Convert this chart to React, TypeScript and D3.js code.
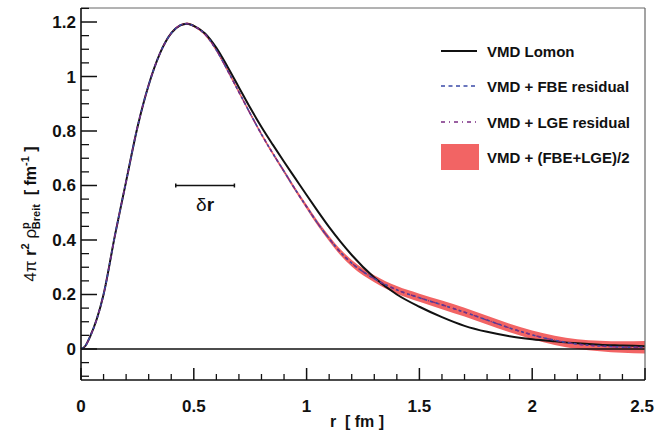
import React from 'react';
import * as d3 from 'd3';

const rValues = [0, 0.02, 0.04, 0.07, 0.10, 0.15, 0.20, 0.25, 0.30, 0.35, 0.40, 0.44, 0.47, 0.50, 0.55, 0.60, 0.65, 0.70, 0.75, 0.80, 0.85, 0.90, 0.95, 1.00, 1.05, 1.10, 1.15, 1.20, 1.30, 1.40, 1.50, 1.60, 1.70, 1.80, 1.90, 2.00, 2.10, 2.20, 2.30, 2.40, 2.50];
const lomonValues = [0, 0.012, 0.045, 0.11, 0.20, 0.415, 0.615, 0.813, 0.969, 1.085, 1.159, 1.188, 1.194, 1.186, 1.158, 1.105, 1.035, 0.96, 0.885, 0.815, 0.75, 0.687, 0.626, 0.565, 0.505, 0.447, 0.394, 0.345, 0.262, 0.2, 0.155, 0.117, 0.085, 0.063, 0.047, 0.036, 0.028, 0.021, 0.016, 0.013, 0.01];
const fbeValues = [0, 0.012, 0.045, 0.11, 0.20, 0.415, 0.615, 0.813, 0.969, 1.085, 1.159, 1.188, 1.194, 1.185, 1.155, 1.097, 1.022, 0.943, 0.864, 0.788, 0.718, 0.652, 0.585, 0.522, 0.46, 0.405, 0.355, 0.315, 0.258, 0.217, 0.188, 0.162, 0.135, 0.106, 0.077, 0.052, 0.032, 0.018, 0.011, 0.007, 0.006];
const lgeValues = [0, 0.012, 0.045, 0.11, 0.20, 0.415, 0.615, 0.813, 0.969, 1.085, 1.159, 1.188, 1.194, 1.185, 1.155, 1.097, 1.022, 0.943, 0.864, 0.788, 0.718, 0.652, 0.585, 0.522, 0.46, 0.405, 0.355, 0.315, 0.258, 0.217, 0.188, 0.162, 0.135, 0.106, 0.077, 0.052, 0.032, 0.018, 0.011, 0.007, 0.006];
const bandCenter = [0, 0.012, 0.045, 0.11, 0.20, 0.415, 0.615, 0.813, 0.969, 1.085, 1.159, 1.188, 1.194, 1.185, 1.155, 1.097, 1.022, 0.943, 0.864, 0.788, 0.718, 0.652, 0.585, 0.522, 0.46, 0.405, 0.355, 0.315, 0.258, 0.217, 0.188, 0.162, 0.135, 0.106, 0.077, 0.052, 0.032, 0.018, 0.011, 0.007, 0.006];
const bandHalfWidth = [0, 0.002, 0.004, 0.004, 0.004, 0.004, 0.004, 0.004, 0.004, 0.004, 0.004, 0.004, 0.004, 0.004, 0.005, 0.006, 0.006, 0.006, 0.006, 0.006, 0.006, 0.007, 0.007, 0.008, 0.009, 0.010, 0.011, 0.012, 0.013, 0.014, 0.015, 0.016, 0.016, 0.016, 0.016, 0.016, 0.017, 0.018, 0.019, 0.021, 0.023];

const xTickValues = [0, 0.5, 1, 1.5, 2, 2.5];
const xTickLabels = ['0', '0.5', '1', '1.5', '2', '2.5'];
const yTickValues = [0, 0.2, 0.4, 0.6, 0.8, 1, 1.2];
const yTickLabels = ['0', '0.2', '0.4', '0.6', '0.8', '1', '1.2'];
const legendLabels = ['VMD Lomon', 'VMD + FBE residual', 'VMD + LGE residual', 'VMD + (FBE+LGE)/2'];
const deltaRRange = [0.42, 0.68];
const deltaRLevel = 0.6;

const W = 655;
const H = 432;
const FONT = "'Liberation Sans', Arial, Helvetica, sans-serif";

export default function App() {
  const x = d3.scaleLinear().domain([0, 2.5]).range([81, 645]);
  const y = d3.scaleLinear().domain([-0.1138, 1.2514]).range([380, 8]);
  const idx = rValues.map((_, i) => i);

  const line = (vals: number[]) =>
    d3.line<number>().x((i) => x(rValues[i])).y((i) => y(vals[i])).curve(d3.curveMonotoneX)(idx) || '';
  const area =
    d3
      .area<number>()
      .x((i) => x(rValues[i]))
      .y0((i) => y(bandCenter[i] - bandHalfWidth[i]))
      .y1((i) => y(bandCenter[i] + bandHalfWidth[i]))
      .curve(d3.curveMonotoneX)(idx) || '';

  const yMinor = d3.range(-0.1, 1.2501, 0.05).filter((v) => Math.abs(Math.round(v * 5) - v * 5) > 1e-6);
  const xMinor = d3.range(0.1, 2.5, 0.1).filter((v) => Math.abs(Math.round(v * 2) - v * 2) > 1e-6);

  const [x0, x1] = x.range();
  const [yb, yt] = y.range();

  const red = '#f26464';
  const blue = '#3a4aa8';
  const purple = '#7a2c82';

  const legendX0 = 441;
  const legendX1 = 477;
  const legendTextX = 487;
  const legendRows = [51, 86, 122, 157];

  return (
    <div style={{ position: 'absolute', left: 0, top: 0 }}>
      <svg width={W} height={H} style={{ display: 'block', background: '#fff' }} fontFamily={FONT}>
        <rect x={0} y={0} width={W} height={H} fill="#fff" />
        <path d={area} fill={red} stroke="none" />
        <line x1={x0} x2={x1} y1={y(0)} y2={y(0)} stroke="#111" strokeWidth={1.5} />
        <path d={line(lomonValues)} fill="none" stroke="#111" strokeWidth={2} />
        <path d={line(fbeValues)} fill="none" stroke={blue} strokeWidth={1.6} strokeDasharray="3,3" />
        <path d={line(lgeValues)} fill="none" stroke={purple} strokeWidth={1.4} strokeDasharray="4,3,1,3" strokeDashoffset={3} />

        <line x1={x0} x2={x1} y1={yt} y2={yt} stroke="#666" strokeWidth={1} />
        <line x1={x1} x2={x1} y1={yt} y2={yb} stroke="#666" strokeWidth={1.2} />
        <line x1={x0} x2={x0} y1={yt} y2={yb} stroke="#111" strokeWidth={1.6} />
        <line x1={x0} x2={x1} y1={yb} y2={yb} stroke="#111" strokeWidth={1.6} />

        {yTickValues.map((v, i) => (
          <g key={'yt' + i}>
            <line x1={x0} x2={x0 + 16} y1={y(v)} y2={y(v)} stroke="#111" strokeWidth={1.5} />
            <text x={x0 - 5} y={y(v) + 6} textAnchor="end" fontSize={17} fontWeight="bold" fill="#111">
              {yTickLabels[i]}
            </text>
          </g>
        ))}
        {yMinor.map((v, i) => (
          <line key={'ym' + i} x1={x0} x2={x0 + 8} y1={y(v)} y2={y(v)} stroke="#111" strokeWidth={1.3} />
        ))}
        {xTickValues.map((v, i) => {
          const last = i === xTickValues.length - 1;
          return (
            <g key={'xt' + i}>
              <line x1={x(v)} x2={x(v)} y1={yb} y2={yb - 12} stroke="#111" strokeWidth={1.5} />
              <text
                x={last ? W - 1 : x(v)}
                y={412}
                textAnchor={last ? 'end' : 'middle'}
                fontSize={17}
                fontWeight="bold"
                fill="#111"
              >
                {xTickLabels[i]}
              </text>
            </g>
          );
        })}
        {xMinor.map((v, i) => (
          <line key={'xm' + i} x1={x(v)} x2={x(v)} y1={yb} y2={yb - 6} stroke="#111" strokeWidth={1.3} />
        ))}

        <text x={357} y={427} textAnchor="middle" fontSize={16} fontWeight="bold" fill="#111" style={{ whiteSpace: 'pre' }}>
          {'r  [ fm ]'}
        </text>
        <text
          transform="translate(36,214) rotate(-90)"
          textAnchor="middle"
          fontSize={16}
          fill="#111"
          style={{ whiteSpace: 'pre' }}
        >
          <tspan fontSize={17}>{'4π '}</tspan>
          <tspan fontWeight="bold">r</tspan>
          <tspan fontWeight="bold" fontSize={11} dy={-7}>2</tspan>
          <tspan fontSize={17} dy={7}>{' ρ'}</tspan>
          <tspan fontWeight="bold" fontSize={11} dy={-7}>p</tspan>
          <tspan fontWeight="bold" fontSize={11} dx={-7} dy={11}>Breit</tspan>
          <tspan fontWeight="bold" dy={-4}>{'  [ fm'}</tspan>
          <tspan fontWeight="bold" fontSize={11} dy={-7}>-1</tspan>
          <tspan fontWeight="bold" dy={7}>{' ]'}</tspan>
        </text>

        <line x1={x(deltaRRange[0])} x2={x(deltaRRange[1])} y1={y(deltaRLevel)} y2={y(deltaRLevel)} stroke="#111" strokeWidth={1.5} />
        <line x1={x(deltaRRange[0])} x2={x(deltaRRange[0])} y1={y(deltaRLevel) - 2} y2={y(deltaRLevel) + 2} stroke="#111" strokeWidth={1.5} />
        <line x1={x(deltaRRange[1])} x2={x(deltaRRange[1])} y1={y(deltaRLevel) - 2} y2={y(deltaRLevel) + 2} stroke="#111" strokeWidth={1.5} />
        <text x={(x(deltaRRange[0]) + x(deltaRRange[1])) / 2} y={y(deltaRLevel) + 26} textAnchor="middle" fontSize={19} fill="#111">
          <tspan>δ</tspan>
          <tspan fontWeight="bold">r</tspan>
        </text>

        <line x1={legendX0} x2={legendX1} y1={legendRows[0]} y2={legendRows[0]} stroke="#111" strokeWidth={2} />
        <line x1={legendX0} x2={legendX1} y1={legendRows[1]} y2={legendRows[1]} stroke={blue} strokeWidth={1.6} strokeDasharray="4,3.5" />
        <line x1={legendX0} x2={legendX1} y1={legendRows[2]} y2={legendRows[2]} stroke={purple} strokeWidth={1.4} strokeDasharray="4,4,1,4" />
        <rect x={legendX0} y={legendRows[3] - 13} width={legendX1 + 2 - legendX0} height={26} fill={red} />
        {legendLabels.map((t, i) => (
          <text key={'lg' + i} x={legendTextX} y={legendRows[i] + 5.5} fontSize={15} fontWeight="bold" fill="#111">
            {t}
          </text>
        ))}
      </svg>
    </div>
  );
}
